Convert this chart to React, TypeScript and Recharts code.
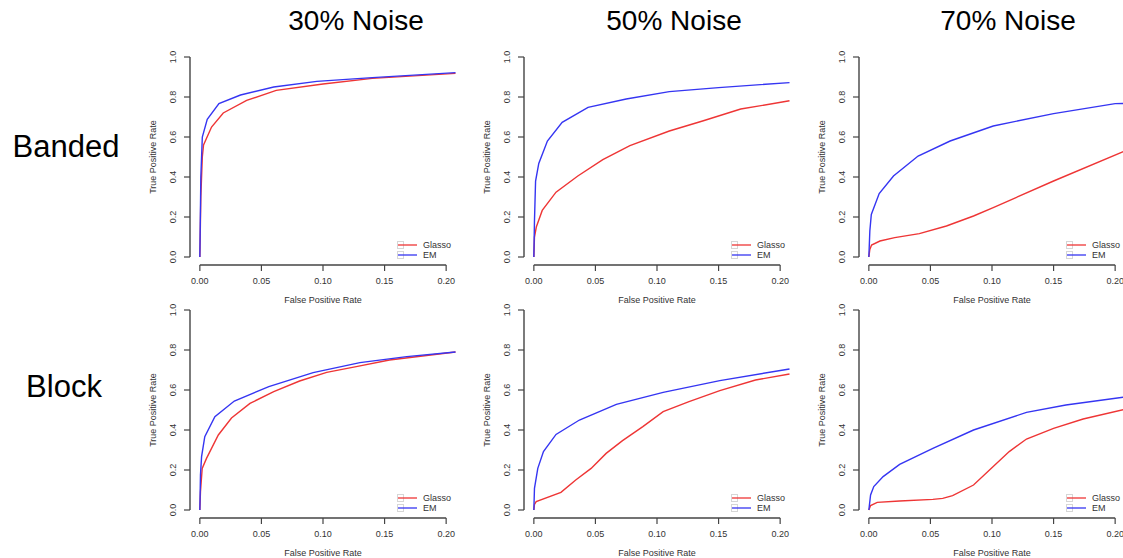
import React from 'react';
import { LineChart, Line, XAxis, YAxis, ReferenceLine, Label, Legend } from 'recharts';

const noiseLevels = ['30% Noise', '50% Noise', '70% Noise'];
const structures = ['Banded', 'Block'];
const seriesNames = ['Glasso', 'EM'];
const xTicks = [0, 0.05, 0.1, 0.15, 0.2];
const yTicks = [0, 0.2, 0.4, 0.6, 0.8, 1];

// ROC points as [false positive rate, true positive rate]
const banded30Glasso = [[0, 0], [0.0008, 0.3], [0.002, 0.5], [0.003, 0.56], [0.0095, 0.65], [0.019, 0.72], [0.038, 0.783], [0.062, 0.833], [0.1, 0.865], [0.14, 0.893], [0.2076, 0.918]];
const banded30EM = [[0, 0], [0.0008, 0.4], [0.002, 0.6], [0.006, 0.688], [0.0155, 0.767], [0.033, 0.81], [0.06, 0.85], [0.095, 0.878], [0.14, 0.897], [0.2076, 0.922]];
const banded50Glasso = [[0, 0], [0.0005, 0.1], [0.002, 0.15], [0.0068, 0.233], [0.018, 0.324], [0.0357, 0.405], [0.056, 0.487], [0.078, 0.557], [0.11, 0.63], [0.137, 0.68], [0.168, 0.74], [0.2076, 0.781]];
const banded50EM = [[0, 0], [0.0005, 0.18], [0.0014, 0.38], [0.004, 0.468], [0.011, 0.58], [0.023, 0.673], [0.044, 0.748], [0.075, 0.79], [0.11, 0.827], [0.15, 0.847], [0.2076, 0.872]];
const banded70Glasso = [[0, 0], [0.0008, 0.038], [0.0022, 0.06], [0.009, 0.08], [0.021, 0.097], [0.041, 0.117], [0.063, 0.155], [0.085, 0.205], [0.101, 0.247], [0.15, 0.38], [0.2076, 0.53]];
const banded70EM = [[0, 0], [0.0008, 0.13], [0.002, 0.213], [0.0084, 0.317], [0.02, 0.405], [0.04, 0.505], [0.066, 0.58], [0.101, 0.655], [0.15, 0.717], [0.2, 0.767], [0.2076, 0.768]];
const block30Glasso = [[0, 0], [0.0005, 0.09], [0.0019, 0.208], [0.0054, 0.258], [0.015, 0.375], [0.0257, 0.46], [0.0407, 0.533], [0.06, 0.592], [0.081, 0.645], [0.103, 0.688], [0.127, 0.717], [0.154, 0.75], [0.2076, 0.79]];
const block30EM = [[0, 0], [0.0005, 0.175], [0.0014, 0.267], [0.004, 0.367], [0.0122, 0.467], [0.028, 0.545], [0.056, 0.617], [0.092, 0.687], [0.13, 0.737], [0.168, 0.767], [0.2076, 0.79]];
const block50Glasso = [[0, 0], [0.0005, 0.028], [0.0019, 0.042], [0.022, 0.088], [0.034, 0.15], [0.0465, 0.208], [0.0587, 0.283], [0.072, 0.347], [0.0885, 0.417], [0.105, 0.492], [0.126, 0.542], [0.151, 0.597], [0.18, 0.65], [0.2076, 0.68]];
const block50EM = [[0, 0], [0.0005, 0.108], [0.0032, 0.208], [0.0078, 0.292], [0.018, 0.378], [0.037, 0.45], [0.067, 0.528], [0.105, 0.588], [0.151, 0.647], [0.2076, 0.705]];
const block70Glasso = [[0, 0], [0.0014, 0.022], [0.0068, 0.038], [0.025, 0.045], [0.052, 0.053], [0.06, 0.058], [0.068, 0.072], [0.085, 0.125], [0.101, 0.217], [0.114, 0.292], [0.128, 0.355], [0.15, 0.408], [0.174, 0.455], [0.2076, 0.503]];
const block70EM = [[0, 0], [0.0014, 0.075], [0.004, 0.117], [0.0116, 0.167], [0.025, 0.228], [0.052, 0.308], [0.085, 0.4], [0.128, 0.488], [0.16, 0.525], [0.2076, 0.565]];

const panels = [
  [banded30Glasso, banded30EM], [banded50Glasso, banded50EM], [banded70Glasso, banded70EM],
  [block30Glasso, block30EM], [block50Glasso, block50EM], [block70Glasso, block70EM],
];

const RED = '#ee3535';
const BLUE = '#3535f2';
const AXIS = '#444';
const FONT = '"Liberation Sans", Arial, Helvetica, sans-serif';

const PLOT_W = 266;
const PLOT_H = 216;
const Y_AXIS_W = 50;
const X_AXIS_H = 44;
const TOP = 10;
const RIGHT = 4;
const CHART_W = Y_AXIS_W + PLOT_W + RIGHT;
const CHART_H = TOP + PLOT_H + X_AXIS_H;

const panelLefts = [140, 474, 809];
const panelTops = [39, 292];

const fmt = (v: number, d: number) => v.toFixed(d);

const XTick = (props: any) => {
  const { x, y, payload } = props;
  return (
    <text x={x} y={y + 8} dy="0.35em" textAnchor="middle" fontSize={9} fill="#333" fontFamily={FONT}>
      {fmt(payload.value, 2)}
    </text>
  );
};

const YTick = (props: any) => {
  const { x, y, payload } = props;
  const cx = x - 9;
  return (
    <text x={cx} y={y} dy="0.35em" textAnchor="middle" fontSize={9} fill="#333" fontFamily={FONT}
      transform={`rotate(-90, ${cx}, ${y})`}>
      {fmt(payload.value, 1)}
    </text>
  );
};

const XTitle = (props: any) => {
  const vb = props.viewBox;
  return (
    <text x={vb.x + vb.width / 2} y={vb.y + 38} textAnchor="middle" fontSize={9} fill="#333" fontFamily={FONT}>
      False Positive Rate
    </text>
  );
};

const YTitle = (props: any) => {
  const vb = props.viewBox;
  const cx = vb.x + vb.width - 37;
  const cy = vb.y + vb.height / 2;
  return (
    <text x={cx} y={cy} dy="0.35em" textAnchor="middle" fontSize={9} fill="#333" fontFamily={FONT}
      transform={`rotate(-90, ${cx}, ${cy})`}>
      True Positive Rate
    </text>
  );
};

const RocLegend = () => (
  <div style={{ fontFamily: FONT, fontSize: 9, color: '#333', lineHeight: '10px' }}>
    {seriesNames.map((name, i) => (
      <div key={name} style={{ display: 'flex', alignItems: 'center', height: 10 }}>
        <svg width={26} height={10}>
          <rect x={0.5} y={1.5} width={6} height={7} fill="none" stroke="#d6d6d6" />
          <line x1={1} y1={5} x2={20} y2={5} stroke={i === 0 ? RED : BLUE} strokeWidth={1.3} />
        </svg>
        <span>{name}</span>
      </div>
    ))}
  </div>
);

const toRows = (pts: number[][]) => pts.map(([fpr, tpr]) => ({ fpr, tpr }));

const RocPanel = ({ glasso, em, left, top }: { glasso: number[][]; em: number[][]; left: number; top: number }) => (
  <div style={{ position: 'absolute', left, top }}>
    <LineChart width={CHART_W} height={CHART_H} margin={{ top: TOP, right: RIGHT, bottom: 0, left: 0 }}>
      <XAxis type="number" dataKey="fpr" domain={[-0.008, 0.208]} ticks={xTicks} interval={0}
        axisLine={false} tickLine={{ stroke: AXIS, strokeWidth: 1.2 }} tickSize={6} tick={<XTick />} height={X_AXIS_H}>
        <Label content={XTitle} />
      </XAxis>
      <YAxis type="number" dataKey="tpr" domain={[-0.04, 1.04]} ticks={yTicks} interval={0}
        axisLine={false} tickLine={{ stroke: AXIS, strokeWidth: 1.2 }} tickSize={6} tick={<YTick />} width={Y_AXIS_W}>
        <Label content={YTitle} />
      </YAxis>
      <ReferenceLine segment={[{ x: 0, y: -0.04 }, { x: 0.2, y: -0.04 }]} stroke={AXIS} strokeWidth={1.4} />
      <ReferenceLine segment={[{ x: -0.008, y: 0 }, { x: -0.008, y: 1 }]} stroke={AXIS} strokeWidth={1.4} />
      <Line data={toRows(glasso)} dataKey="tpr" name="Glasso" type="linear" stroke={RED} strokeWidth={1.4}
        dot={false} activeDot={false} isAnimationActive={false} />
      <Line data={toRows(em)} dataKey="tpr" name="EM" type="linear" stroke={BLUE} strokeWidth={1.4}
        dot={false} activeDot={false} isAnimationActive={false} />
      <Legend layout="horizontal" verticalAlign="middle" align="center" content={() => <RocLegend />}
        wrapperStyle={{ left: Y_AXIS_W + PLOT_W - 59, top: TOP + PLOT_H - 25, width: 'auto', height: 'auto' }} />
    </LineChart>
  </div>
);

const titleCenters = [356, 674, 1008];
const rowLabelPos = [[66, 157], [64, 397]];

export default function App() {
  return (
    <div style={{ position: 'fixed', left: 0, top: 0, width: 1123, height: 558, overflow: 'hidden', background: '#fff' }}>
      <svg width={1123} height={558} style={{ position: 'absolute', left: 0, top: 0 }}>
        {noiseLevels.map((t, i) => (
          <text key={t} x={titleCenters[i]} y={30} textAnchor="middle" fontSize={28} fill="#000" fontFamily={FONT}>{t}</text>
        ))}
        {structures.map((s, i) => (
          <text key={s} x={rowLabelPos[i][0]} y={rowLabelPos[i][1]} textAnchor="middle" fontSize={31} fill="#000" fontFamily={FONT}>{s}</text>
        ))}
      </svg>
      {panels.map(([g, e], i) => (
        <RocPanel key={i} glasso={g} em={e} left={panelLefts[i % 3]} top={panelTops[Math.floor(i / 3)]} />
      ))}
    </div>
  );
}
